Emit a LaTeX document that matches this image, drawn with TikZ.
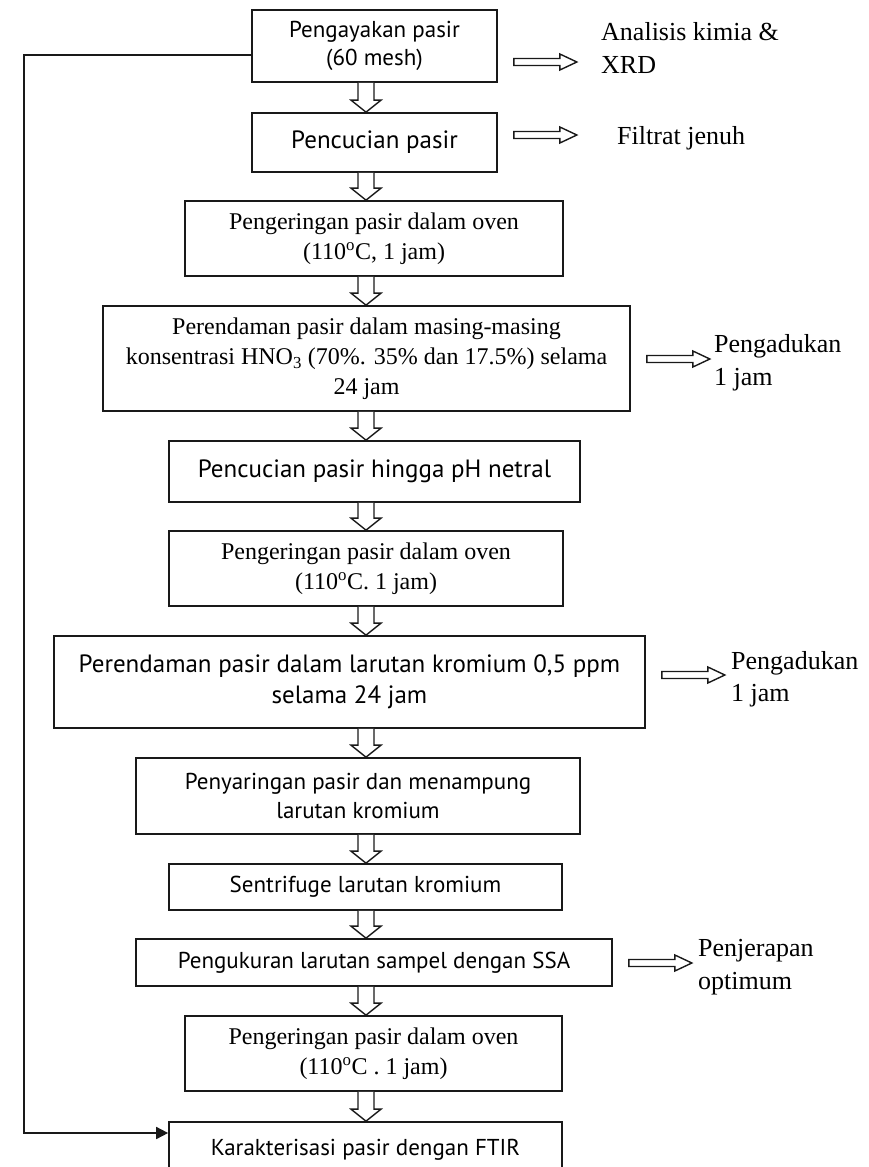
\documentclass[tikz,border=0pt]{standalone}
\usepackage{fontspec}
\setmainfont{Liberation Serif}
\newfontfamily\boxsans{PT Sans}
\usetikzlibrary{calc,arrows.meta}
\newcommand\fs[1]{\fontsize{#1}{1.25\dimexpr#1pt\relax}\selectfont}
\newcommand\vhollow[2]{%
  \draw[hollow] let \p1=(#1.south), \p2=(#2.north) in
    (358pt,\y1) -- (358pt,\y2+12pt) -- (351pt,\y2+12pt) -- (366pt,\y2)
    -- (381pt,\y2+12pt) -- (374pt,\y2+12pt) -- (374pt,\y1);}
\newcommand\hhollow[3]{%
  \draw[hollow] let \p1=(#1.east) in
    (\x1+16pt,-#3pt+3.5pt) -- (\x1+62pt,-#3pt+3.5pt) -- (\x1+62pt,-#3pt+8pt)
    -- (\x1+79pt,-#3pt) -- (\x1+62pt,-#3pt-8pt) -- (\x1+62pt,-#3pt-3.5pt)
    -- (\x1+16pt,-#3pt-3.5pt) -- cycle;}
\begin{document}
\begin{tikzpicture}[x=1pt,y=-1pt,
  box/.style={draw=black!90, line width=1.7pt, align=center, inner sep=0pt, fill=white},
  serifbox/.style={box, font=\fs{24}},
  sansbox/.style={box, font=\boxsans\fs{23}},
  side/.style={anchor=west, align=left, inner sep=0pt, font=\fs{26}},
  hollow/.style={draw=black!90, line width=1.4pt, fill=white, line join=miter},
  feed/.style={draw=black!90, line width=1.7pt}
]
\useasboundingbox[fill=white] (0,0) rectangle (868,1167);

\node[sansbox, minimum width=245pt, minimum height=72pt] (b1) at (374.5,46) {Pengayakan pasir\\(60 mesh)};
\node[sansbox, font=\boxsans\fs{25}, minimum width=245pt, minimum height=59pt] (b2) at (374.5,142.5) {Pencucian pasir};
\node[serifbox, minimum width=378pt, minimum height=75pt] (b3) at (374,238.5) {Pengeringan pasir dalam oven\\(110\textsuperscript{o}C, 1 jam)};
\node[serifbox, font=\fs{24}, minimum width=527pt, minimum height=105pt] (b4) at (366.5,358.5) {Perendaman pasir dalam masing-masing\\konsentrasi HNO\textsubscript{3} (70\%. 35\% dan 17.5\%) selama\\24 jam};
\node[sansbox, font=\boxsans\fs{25}, minimum width=411pt, minimum height=61pt] (b5) at (374.5,471.5) {Pencucian pasir hingga pH netral};
\node[serifbox, minimum width=394pt, minimum height=75pt] (b6) at (366,568.5) {Pengeringan pasir dalam oven\\(110\textsuperscript{o}C. 1 jam)};
\node[sansbox, font=\boxsans\fs{25}, minimum width=591pt, minimum height=92pt] (b7) at (349.5,682) {Perendaman pasir dalam larutan kromium 0,5 ppm\\selama 24 jam};
\node[sansbox, minimum width=444pt, minimum height=76pt] (b8) at (358,796) {Penyaringan pasir dan menampung\\larutan kromium};
\node[sansbox, minimum width=393pt, minimum height=46pt] (b9) at (365.5,887) {Sentrifuge larutan kromium};
\node[sansbox, minimum width=476pt, minimum height=47pt] (b10) at (374,962.5) {Pengukuran larutan sampel dengan SSA};
\node[serifbox, minimum width=377pt, minimum height=75pt] (b11) at (373.5,1053.5) {Pengeringan pasir dalam oven\\(110\textsuperscript{o}C . 1 jam)};
\node[sansbox, minimum width=393pt, minimum height=50pt, text depth=0pt] (b12) at (365.5,1147) {Karakterisasi pasir dengan FTIR};

\vhollow{b1}{b2}
\vhollow{b2}{b3}
\vhollow{b3}{b4}
\vhollow{b4}{b5}
\vhollow{b5}{b6}
\vhollow{b6}{b7}
\vhollow{b7}{b8}
\vhollow{b8}{b9}
\vhollow{b9}{b10}
\vhollow{b10}{b11}
\vhollow{b11}{b12}

\node[side] (l1) at (601,48) {Analisis kimia \&\\XRD};
\node[side] (l2) at (617,138) {Filtrat jenuh};
\node[side] (l3) at (714,362.5) {Pengadukan\\1 jam};
\node[side] (l4) at (731,679) {Pengadukan\\1 jam};
\node[side] (l5) at (698,967) {Penjerapan\\optimum};

\hhollow{b1}{l1}{62}
\hhollow{b2}{l2}{135}
\hhollow{b4}{l3}{359}
\hhollow{b7}{l4}{675}
\hhollow{b10}{l5}{963}

\coordinate (fbtop) at (24,55);
\coordinate (fbbot) at (24,1133);
\draw[feed, -{Triangle[length=12pt,width=12pt]}] (b1.west |- fbtop) -- (fbtop) -- (fbbot) -- (b12.west |- fbbot);
\end{tikzpicture}
\end{document}
